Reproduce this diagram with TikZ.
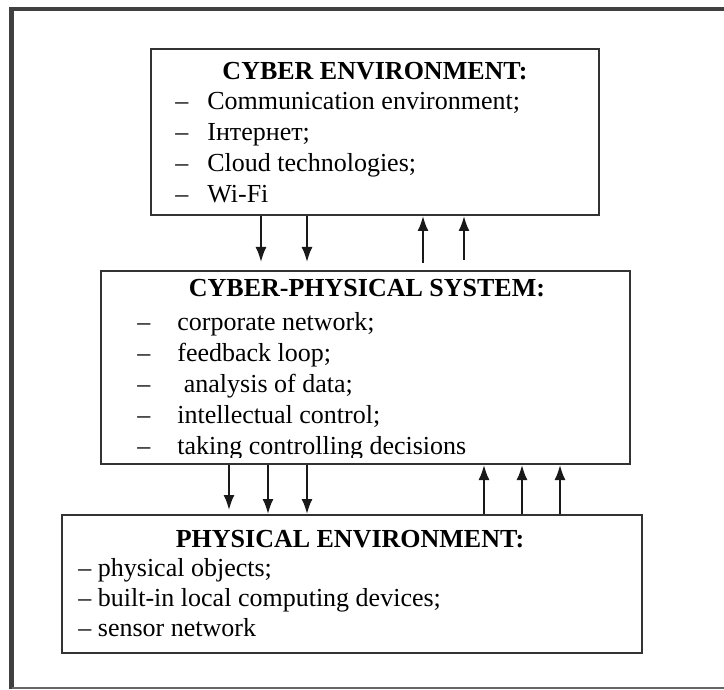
\documentclass[tikz,border=0pt]{standalone}
\usepackage{fontspec}
\setmainfont{Liberation Serif}
\usetikzlibrary{arrows.meta}

\begin{document}
\begin{tikzpicture}[x=0.5pt, y=-0.5pt,
    frame/.style={draw=black!75, line width=2.2pt},
    box/.style={draw=black!80, line width=1pt, rectangle, inner sep=0pt},
    title/.style={anchor=base, inner sep=0pt, font=\fontsize{13}{15}\selectfont\bfseries},
    item/.style={anchor=base west, inner sep=0pt, font=\fontsize{13}{15}\selectfont},
    flow/.style={-{Latex[length=7.5pt, width=5.5pt]}, line width=1pt, black!90}]

    \useasboundingbox (0,0) rectangle (724,690);

    % Outer frame, open on the right
    \draw[frame] (724,9) -- (11.5,9) -- (11.5,689);
    \draw[black!60, line width=1pt] (11.5,688) -- (724,688);

    % Cyber environment
    \node[box, minimum width=224pt, minimum height=83pt] (cyber) at (375,132) {};
    \node[title] (cyber-t) at (375,80) {CYBER ENVIRONMENT:};
    \foreach \txt [count=\i] in {Communication environment;, Інтернет;, Cloud technologies;, Wi-Fi} {
        \node[item] (cyber-d\i) at (175,79+31*\i) {--};
        \node[item] (cyber-\i) at (207,79+31*\i) {\txt};
    }

    % Cyber-physical system
    \node[box, minimum width=264.5pt, minimum height=96.5pt] (cps) at (365.5,367.5) {};
    \node[title] (cps-t) at (367,297) {CYBER-PHYSICAL SYSTEM:};
    \begin{scope}
        \clip (101,271) rectangle (630,457);
        \foreach \txt [count=\i] in {corporate network;, feedback loop;, \ analysis of data;, intellectual control;, taking controlling decisions} {
            \node[item] (cps-d\i) at (137,300+30.8*\i) {--};
            \node[item] (cps-\i) at (177,300+30.8*\i) {\txt};
        }
    \end{scope}

    % Physical environment
    \node[box, minimum width=290pt, minimum height=69pt] (phys) at (352,584) {};
    \node[title] (phys-t) at (350,547) {PHYSICAL ENVIRONMENT:};
    \foreach \txt [count=\i] in {physical objects;, built-in local computing devices;, sensor network} {
        \node[item] (phys-\i) at (78,546+30*\i) {-- \txt};
    }

    % Cyber environment <-> cyber-physical system
    \coordinate (cd1) at (261,262);
    \coordinate (cd2) at (307,262);
    \draw[flow] (cyber.south -| cd1) -- (cd1);
    \draw[flow] (cyber.south -| cd2) -- (cd2);
    \coordinate (cu1) at (423,263);
    \coordinate (cu2) at (464,260);
    \draw[flow] (cu1) -- (cyber.south -| cu1);
    \draw[flow] (cu2) -- (cyber.south -| cu2);

    % Cyber-physical system <-> physical environment
    \coordinate (pd1) at (229,510);
    \draw[flow] (cps.south -| pd1) -- (pd1);
    \foreach \x [count=\i from 2] in {268,307} {
        \coordinate (pd\i) at (\x,515);
        \draw[flow] (cps.south -| pd\i) -- (phys.north -| pd\i);
    }
    \foreach \x [count=\i] in {484,522,560} {
        \coordinate (pu\i) at (\x,515);
        \draw[flow] (phys.north -| pu\i) -- (cps.south -| pu\i);
    }
\end{tikzpicture}
\end{document}
